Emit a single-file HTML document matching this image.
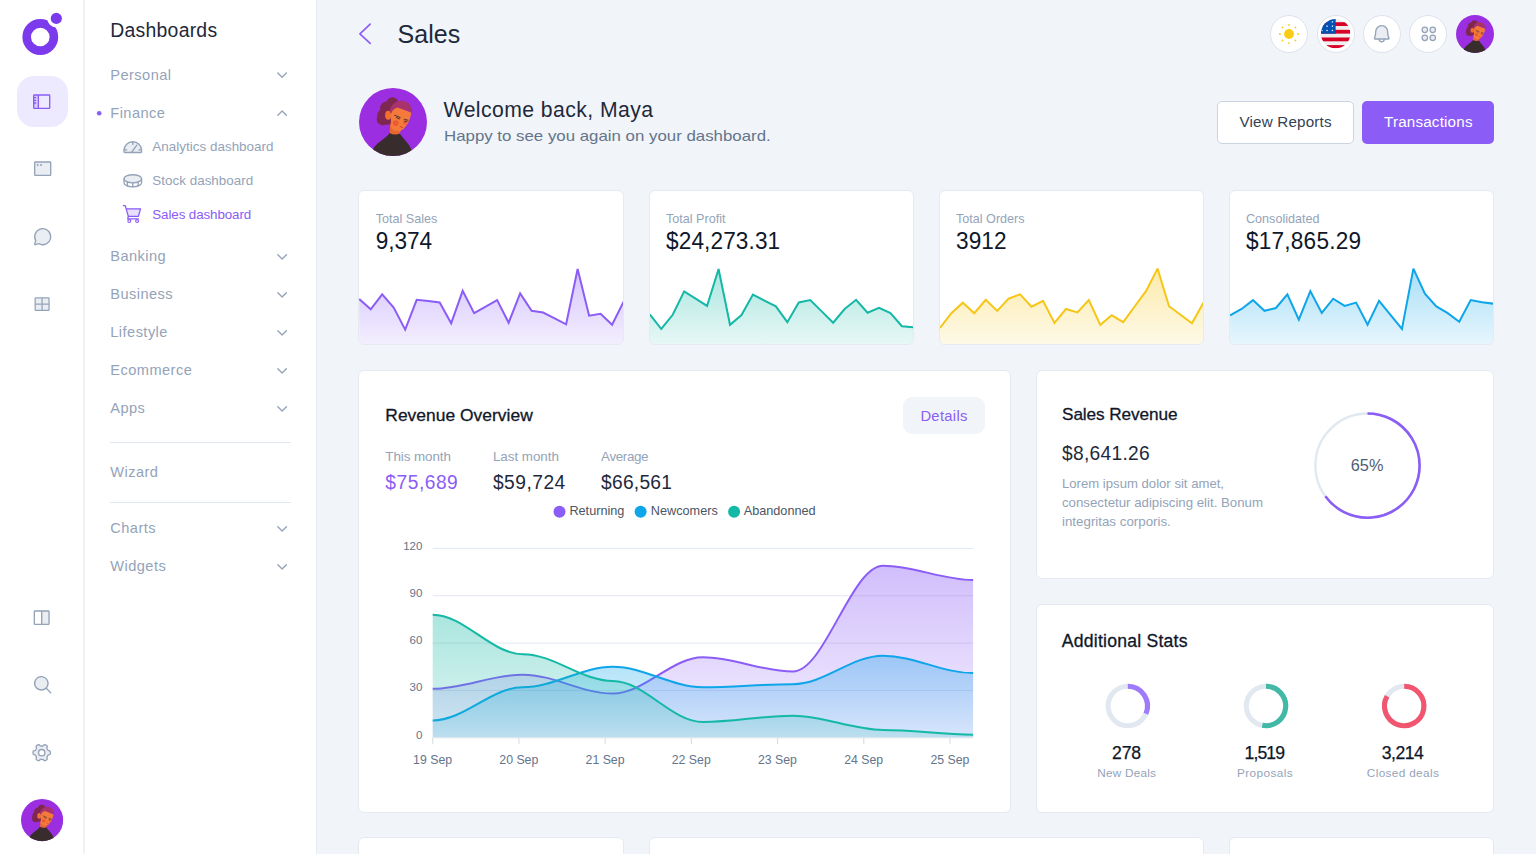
<!DOCTYPE html>
<html lang="en"><head><meta charset="utf-8"><title>Sales dashboard</title>
<style>
html,body{margin:0;padding:0;width:1536px;height:854px;overflow:hidden}
body{width:1536px;height:854px;overflow:hidden;background:#f1f5f9;font-family:'Liberation Sans',sans-serif;position:relative}
.t{position:absolute;white-space:pre;font-family:'Liberation Sans',sans-serif}
.abs{position:absolute}
.card{position:absolute;background:#fff;border:1px solid #e5eaf1;border-radius:6px;box-sizing:border-box;overflow:hidden}
svg{position:absolute;overflow:visible}
#app{position:absolute;left:0;top:0;width:1536px;height:854px;overflow:hidden;background:#f1f5f9}
</style></head><body>
<div id="app">
<svg width="0" height="0" style="position:absolute"><defs>
<clipPath id="avc"><circle cx="50" cy="50" r="50"/></clipPath>
<symbol id="avatar" viewBox="0 0 100 100">
<g clip-path="url(#avc)">
<rect width="100" height="100" fill="#9a2ee0"/>
<g fill="#7e2751">
<circle cx="49" cy="22" r="8.5"/><circle cx="41" cy="30" r="10"/><circle cx="36" cy="40" r="9"/><circle cx="35" cy="46" r="9"/><circle cx="42" cy="45" r="9"/><circle cx="46" cy="34" r="9"/>
</g>
<path d="M21,89 C27,79 40,74 45,66 L60,67 C66,76 74,82 77,91 L77,102 L21,102 Z" fill="#392c2c"/>
<path d="M46,52 L45,66 Q52,70 60,67 L62,60 Z" fill="#e8672f"/>
<ellipse cx="43" cy="40" rx="4.6" ry="6.6" fill="#f2702f"/>
<path d="M47,33 L56,27.5 L77,36.5 L75,45 L72,52 L66,60 L60,63.5 L52,63 L47,58 Z" fill="#f47a3c"/>
<path d="M45,35 C46,24 56,17 65,19 C73,20 78,27 78.5,36 L56.5,28.5 C52,30 48,33 47.5,38 Z" fill="#a8326c"/>
<circle cx="54" cy="51.5" r="4.2" fill="#ee5a30"/>
<circle cx="67.5" cy="51" r="2.6" fill="#ee5a30"/>
<path d="M52.5,40 L60.5,43.5 M66.5,46 L72,47.5" stroke="#5d3a2a" stroke-width="1.5" fill="none" stroke-linecap="round"/>
<path d="M55,43.5 L59.5,45.5 M67,48.6 L70.5,49.6" stroke="#3a2a2a" stroke-width="1.3" fill="none" stroke-linecap="round"/>
<path d="M60.5,56.5 L64.5,58.2" stroke="#d94a2c" stroke-width="1.6" fill="none" stroke-linecap="round"/>
</g></symbol></defs></svg>
<div class="abs" style="left:0;top:0;width:83px;height:854px;background:#fff;border-right:2px solid #f0f2f8"></div>
<div class="abs" style="left:85px;top:0;width:231px;height:854px;background:#fff;border-right:1px solid #e7ebf2"></div>
<svg style="left:20px;top:8px" width="48" height="52" viewBox="20 8 48 52">
<circle cx="40.3" cy="37" r="13.6" fill="none" stroke="#7c3aed" stroke-width="8.6"/>
<circle cx="56.3" cy="18.4" r="9" fill="#fff"/>
<circle cx="56.3" cy="18.4" r="5.6" fill="#7c3aed"/></svg>
<div class="abs" style="left:17px;top:76px;width:50.5px;height:50.5px;border-radius:17px;background:#ede9fe"></div>
<svg style="left:31.30px;top:90.50px" width="21.4" height="21.4" viewBox="0 0 256 256" fill="#8b5cf6"><path d="M88,48V208H40a8,8,0,0,1-8-8V56a8,8,0,0,1,8-8Z" opacity="0.2"/><path d="M216,40H40A16,16,0,0,0,24,56V200a16,16,0,0,0,16,16H216a16,16,0,0,0,16-16V56A16,16,0,0,0,216,40ZM40,152H56a8,8,0,0,0,0-16H40V120H56a8,8,0,0,0,0-16H40V88H56a8,8,0,0,0,0-16H40V56H80V200H40ZM216,200H96V56H216V200Z"/></svg>
<svg style="left:31.50px;top:157.90px" width="21.4" height="21.4" viewBox="0 0 256 256" fill="#94a3b8"><path d="M224,56V200a8,8,0,0,1-8,8H40a8,8,0,0,1-8-8V56a8,8,0,0,1,8-8H216A8,8,0,0,1,224,56Z" opacity="0.2"/><path d="M216,40H40A16,16,0,0,0,24,56V200a16,16,0,0,0,16,16H216a16,16,0,0,0,16-16V56A16,16,0,0,0,216,40Zm0,160H40V56H216V200ZM80,84A12,12,0,1,1,68,72,12,12,0,0,1,80,84Zm40,0a12,12,0,1,1-12-12A12,12,0,0,1,120,84Z"/></svg>
<svg style="left:31.50px;top:225.50px" width="21.4" height="21.4" viewBox="0 0 256 256" fill="#94a3b8"><path d="M224,128A96,96,0,0,1,79.93,211.11h0L42.54,223.58a8,8,0,0,1-10.12-10.12l12.47-37.39h0A96,96,0,1,1,224,128Z" opacity="0.2"/><path d="M128,24A104,104,0,0,0,36.18,176.88L24.83,210.93a16,16,0,0,0,20.24,20.24l34.05-11.35A104,104,0,1,0,128,24Zm0,192a87.87,87.87,0,0,1-44.06-11.81,8,8,0,0,0-6.54-.67L40,216,52.47,178.6a8,8,0,0,0-.66-6.54A88,88,0,1,1,128,216Z"/></svg>
<svg style="left:32.05px;top:293.60px" width="20.2" height="20.2" viewBox="0 0 256 256" fill="#94a3b8"><path d="M216,56V200a8,8,0,0,1-8,8H48a8,8,0,0,1-8-8V56a8,8,0,0,1,8-8H208A8,8,0,0,1,216,56Z" opacity="0.2"/><path d="M208,40H48A16,16,0,0,0,32,56V200a16,16,0,0,0,16,16H208a16,16,0,0,0,16-16V56A16,16,0,0,0,208,40Zm0,80H136V56h72ZM120,56v64H48V56ZM48,136h72v64H48Zm160,64H136V136h72v64Z"/></svg>
<svg style="left:31.40px;top:606.80px" width="21.4" height="21.4" viewBox="0 0 256 256" fill="#94a3b8"><path d="M128,48H208a8,8,0,0,1,8,8V200a8,8,0,0,1-8,8H128Z" opacity="0.2"/><path d="M208,40H48A16,16,0,0,0,32,56V200a16,16,0,0,0,16,16H208a16,16,0,0,0,16-16V56A16,16,0,0,0,208,40ZM48,56h72V200H48ZM208,200H136V56h72V200Z"/></svg>
<svg style="left:31.65px;top:673.90px" width="21.4" height="21.4" viewBox="0 0 256 256" fill="#94a3b8"><path d="M192,112a80,80,0,1,1-80-80A80,80,0,0,1,192,112Z" opacity="0.2"/><path d="M229.66,218.34,179.6,168.28a88.21,88.21,0,1,0-11.32,11.31l50.06,50.07a8,8,0,0,0,11.32-11.32ZM40,112a72,72,0,1,1,72,72A72.08,72.08,0,0,1,40,112Z"/></svg>
<svg style="left:31.20px;top:741.80px;color:#94a3b8" width="21.4" height="21.4" viewBox="0 0 256 256" fill="#94a3b8"><path d="M232.0,128.0 L231.9,132.5 L231.4,137.0 L230.4,141.5 L228.3,145.7 L224.0,149.3 L216.9,151.8 L209.7,153.8 L205.2,156.1 L202.6,158.9 L200.7,161.9 L199.0,165.0 L197.3,168.0 L195.5,171.0 L193.7,174.0 L192.1,177.2 L190.9,180.8 L191.2,185.9 L193.1,193.1 L194.4,200.5 L193.5,206.0 L190.9,209.9 L187.5,213.0 L183.9,215.7 L180.0,218.1 L176.0,220.2 L171.9,222.0 L167.5,223.4 L162.8,223.7 L157.6,221.8 L151.8,216.9 L146.5,211.6 L142.3,208.9 L138.5,208.1 L135.0,207.9 L131.5,208.0 L128.0,208.0 L124.5,208.0 L121.0,207.9 L117.5,208.1 L113.7,208.9 L109.5,211.6 L104.2,216.9 L98.4,221.8 L93.2,223.7 L88.5,223.4 L84.1,222.0 L80.0,220.2 L76.0,218.1 L72.1,215.7 L68.5,213.0 L65.1,209.9 L62.5,206.0 L61.6,200.5 L62.9,193.1 L64.8,185.9 L65.1,180.8 L63.9,177.2 L62.3,174.0 L60.5,171.0 L58.7,168.0 L57.0,165.0 L55.3,161.9 L53.4,158.9 L50.8,156.1 L46.3,153.8 L39.1,151.8 L32.0,149.3 L27.7,145.7 L25.6,141.5 L24.6,137.0 L24.1,132.5 L24.0,128.0 L24.1,123.5 L24.6,119.0 L25.6,114.5 L27.7,110.3 L32.0,106.7 L39.1,104.2 L46.3,102.2 L50.8,99.9 L53.4,97.1 L55.3,94.1 L57.0,91.0 L58.7,88.0 L60.5,85.0 L62.3,82.0 L63.9,78.8 L65.1,75.2 L64.8,70.1 L62.9,62.9 L61.6,55.5 L62.5,50.0 L65.1,46.1 L68.5,43.0 L72.1,40.3 L76.0,37.9 L80.0,35.8 L84.1,34.0 L88.5,32.6 L93.2,32.3 L98.4,34.2 L104.2,39.1 L109.5,44.4 L113.7,47.1 L117.5,47.9 L121.0,48.1 L124.5,48.0 L128.0,48.0 L131.5,48.0 L135.0,48.1 L138.5,47.9 L142.3,47.1 L146.5,44.4 L151.8,39.1 L157.6,34.2 L162.8,32.3 L167.5,32.6 L171.9,34.0 L176.0,35.8 L180.0,37.9 L183.9,40.3 L187.5,43.0 L190.9,46.1 L193.5,50.0 L194.4,55.5 L193.1,62.9 L191.2,70.1 L190.9,75.2 L192.1,78.8 L193.7,82.0 L195.5,85.0 L197.3,88.0 L199.0,91.0 L200.7,94.1 L202.6,97.1 L205.2,99.9 L209.7,102.2 L216.9,104.2 L224.0,106.7 L228.3,110.3 L230.4,114.5 L231.4,119.0 L231.9,123.5Z" opacity="0.2"/><path d="M232.0,128.0 L231.9,132.5 L231.4,137.0 L230.4,141.5 L228.3,145.7 L224.0,149.3 L216.9,151.8 L209.7,153.8 L205.2,156.1 L202.6,158.9 L200.7,161.9 L199.0,165.0 L197.3,168.0 L195.5,171.0 L193.7,174.0 L192.1,177.2 L190.9,180.8 L191.2,185.9 L193.1,193.1 L194.4,200.5 L193.5,206.0 L190.9,209.9 L187.5,213.0 L183.9,215.7 L180.0,218.1 L176.0,220.2 L171.9,222.0 L167.5,223.4 L162.8,223.7 L157.6,221.8 L151.8,216.9 L146.5,211.6 L142.3,208.9 L138.5,208.1 L135.0,207.9 L131.5,208.0 L128.0,208.0 L124.5,208.0 L121.0,207.9 L117.5,208.1 L113.7,208.9 L109.5,211.6 L104.2,216.9 L98.4,221.8 L93.2,223.7 L88.5,223.4 L84.1,222.0 L80.0,220.2 L76.0,218.1 L72.1,215.7 L68.5,213.0 L65.1,209.9 L62.5,206.0 L61.6,200.5 L62.9,193.1 L64.8,185.9 L65.1,180.8 L63.9,177.2 L62.3,174.0 L60.5,171.0 L58.7,168.0 L57.0,165.0 L55.3,161.9 L53.4,158.9 L50.8,156.1 L46.3,153.8 L39.1,151.8 L32.0,149.3 L27.7,145.7 L25.6,141.5 L24.6,137.0 L24.1,132.5 L24.0,128.0 L24.1,123.5 L24.6,119.0 L25.6,114.5 L27.7,110.3 L32.0,106.7 L39.1,104.2 L46.3,102.2 L50.8,99.9 L53.4,97.1 L55.3,94.1 L57.0,91.0 L58.7,88.0 L60.5,85.0 L62.3,82.0 L63.9,78.8 L65.1,75.2 L64.8,70.1 L62.9,62.9 L61.6,55.5 L62.5,50.0 L65.1,46.1 L68.5,43.0 L72.1,40.3 L76.0,37.9 L80.0,35.8 L84.1,34.0 L88.5,32.6 L93.2,32.3 L98.4,34.2 L104.2,39.1 L109.5,44.4 L113.7,47.1 L117.5,47.9 L121.0,48.1 L124.5,48.0 L128.0,48.0 L131.5,48.0 L135.0,48.1 L138.5,47.9 L142.3,47.1 L146.5,44.4 L151.8,39.1 L157.6,34.2 L162.8,32.3 L167.5,32.6 L171.9,34.0 L176.0,35.8 L180.0,37.9 L183.9,40.3 L187.5,43.0 L190.9,46.1 L193.5,50.0 L194.4,55.5 L193.1,62.9 L191.2,70.1 L190.9,75.2 L192.1,78.8 L193.7,82.0 L195.5,85.0 L197.3,88.0 L199.0,91.0 L200.7,94.1 L202.6,97.1 L205.2,99.9 L209.7,102.2 L216.9,104.2 L224.0,106.7 L228.3,110.3 L230.4,114.5 L231.4,119.0 L231.9,123.5Z" fill="none" stroke="currentColor" stroke-width="16" stroke-linejoin="round"/><circle cx="128" cy="128" r="38" fill="#fff" stroke="currentColor" stroke-width="16"/></svg>
<svg style="left:20.9px;top:799.1px" width="42.2" height="42.2"><use href="#avatar" width="42.2" height="42.2"/></svg>
<svg style="left:0;top:0" width="1536" height="854" viewBox="0 0 1536 854"><polyline points="277.80,73.05 282.10,77.35 286.40,73.05" fill="none" stroke="#94a3b8" stroke-width="1.35" stroke-linecap="round" stroke-linejoin="round"/><polyline points="277.80,115.35 282.10,111.05 286.40,115.35" fill="none" stroke="#94a3b8" stroke-width="1.35" stroke-linecap="round" stroke-linejoin="round"/><polyline points="277.80,254.65 282.10,258.95 286.40,254.65" fill="none" stroke="#94a3b8" stroke-width="1.35" stroke-linecap="round" stroke-linejoin="round"/><polyline points="277.80,292.65 282.10,296.95 286.40,292.65" fill="none" stroke="#94a3b8" stroke-width="1.35" stroke-linecap="round" stroke-linejoin="round"/><polyline points="277.80,330.65 282.10,334.95 286.40,330.65" fill="none" stroke="#94a3b8" stroke-width="1.35" stroke-linecap="round" stroke-linejoin="round"/><polyline points="277.80,368.65 282.10,372.95 286.40,368.65" fill="none" stroke="#94a3b8" stroke-width="1.35" stroke-linecap="round" stroke-linejoin="round"/><polyline points="277.80,406.65 282.10,410.95 286.40,406.65" fill="none" stroke="#94a3b8" stroke-width="1.35" stroke-linecap="round" stroke-linejoin="round"/><polyline points="277.80,526.65 282.10,530.95 286.40,526.65" fill="none" stroke="#94a3b8" stroke-width="1.35" stroke-linecap="round" stroke-linejoin="round"/><polyline points="277.80,564.65 282.10,568.95 286.40,564.65" fill="none" stroke="#94a3b8" stroke-width="1.35" stroke-linecap="round" stroke-linejoin="round"/><circle cx="99.2" cy="113.3" r="2.3" fill="#8b5cf6"/><rect x="110" y="442" width="181" height="1" fill="#e2e8f0"/><rect x="110" y="502" width="181" height="1" fill="#e2e8f0"/><polyline points="370.2,24.2 359.9,33.8 370.2,43.4" fill="none" stroke="#8b5cf6" stroke-width="1.7" stroke-linecap="round" stroke-linejoin="round"/></svg>
<svg style="left:122.30px;top:137.10px;color:#94a3b8" width="21.6" height="21.6" viewBox="0 0 256 256" fill="#94a3b8"><path d="M24,176v-16a104,104,0,0,1,208,0v16a8,8,0,0,1-8,8H32A8,8,0,0,1,24,176Z" opacity="0.2"/><path d="M24,176v-16a104,104,0,0,1,208,0v16a8,8,0,0,1-8,8H32A8,8,0,0,1,24,176Z" fill="none" stroke="currentColor" stroke-width="16" stroke-linejoin="round"/><path d="M128,56V88 M24,152H56 M200,152H232 M112,184 L176,96" fill="none" stroke="currentColor" stroke-width="16" stroke-linecap="round"/></svg>
<svg style="left:122.30px;top:169.90px;color:#94a3b8" width="21.6" height="21.6" viewBox="0 0 256 256" fill="#94a3b8"><ellipse cx="128" cy="104" rx="104" ry="48" opacity="0.2"/><ellipse cx="128" cy="104" rx="104" ry="48" fill="none" stroke="currentColor" stroke-width="16"/><path d="M24,104v48c0,26.5,46.6,48,104,48s104-21.500,104-48V104" fill="none" stroke="currentColor" stroke-width="16" stroke-linecap="round"/><path d="M128,152v48 M192,142v48 M64,142v48" fill="none" stroke="currentColor" stroke-width="16" stroke-linecap="round"/></svg>
<svg style="left:121.90px;top:203.20px;color:#8b5cf6" width="20.8" height="20.8" viewBox="0 0 256 256" fill="#8b5cf6"><path d="M62,72H228L202,164H78Z" opacity="0.2"/><path d="M16,32H40L78,164H202L228,72H54" fill="none" stroke="currentColor" stroke-width="16" stroke-linecap="round" stroke-linejoin="round"/><path d="M78,164 L70,196 H200" fill="none" stroke="currentColor" stroke-width="16" stroke-linecap="round" stroke-linejoin="round"/><circle cx="90" cy="222" r="18" fill="none" stroke="currentColor" stroke-width="14"/><circle cx="186" cy="222" r="18" fill="none" stroke="currentColor" stroke-width="14"/></svg>
<div class="abs" style="left:1270.10px;top:14.80px;width:38px;height:38px;border-radius:50%;background:#fff;border:1px solid #dde3ed;box-sizing:border-box"></div>
<div class="abs" style="left:1316.50px;top:14.80px;width:38px;height:38px;border-radius:50%;background:#fff;border:1px solid #dde3ed;box-sizing:border-box"></div>
<div class="abs" style="left:1362.90px;top:14.80px;width:38px;height:38px;border-radius:50%;background:#fff;border:1px solid #dde3ed;box-sizing:border-box"></div>
<div class="abs" style="left:1409.30px;top:14.80px;width:38px;height:38px;border-radius:50%;background:#fff;border:1px solid #dde3ed;box-sizing:border-box"></div>
<svg style="left:1274px;top:18.8px" width="30" height="30" viewBox="-15 -15 30 30" fill="#facc15"><circle r="4.9"/><circle cx="9.10" cy="0.00" r="0.95"/><circle cx="6.43" cy="6.43" r="0.95"/><circle cx="0.00" cy="9.10" r="0.95"/><circle cx="-6.43" cy="6.43" r="0.95"/><circle cx="-9.10" cy="0.00" r="0.95"/><circle cx="-6.43" cy="-6.43" r="0.95"/><circle cx="-0.00" cy="-9.10" r="0.95"/><circle cx="6.43" cy="-6.43" r="0.95"/></svg>
<svg style="left:1320.85px;top:19.2px" width="29.3" height="29.3" viewBox="0 0 512 512"><defs><clipPath id="fc"><circle cx="256" cy="256" r="256"/></clipPath></defs><g clip-path="url(#fc)"><rect width="512" height="512" fill="#eee"/><rect x="0" y="55.6" width="512" height="66.8" fill="#d80027"/><rect x="0" y="189.2" width="512" height="66.8" fill="#d80027"/><rect x="0" y="322.8" width="512" height="66.8" fill="#d80027"/><rect x="0" y="456.3" width="512" height="55.7" fill="#d80027"/><rect width="256" height="256" fill="#0052b4"/><path d="M200,29l5.500,13.500 14,1 -10.500,9.500 3.500,14 -12.500,-7.500 -12.500,7.500 3.500,-14 -10.500,-9.500 14,-1z" fill="#eee"/><path d="M106,104l5.500,13.500 14,1 -10.500,9.500 3.500,14 -12.500,-7.500 -12.500,7.500 3.500,-14 -10.500,-9.500 14,-1z" fill="#eee"/><path d="M200,104l5.500,13.500 14,1 -10.500,9.500 3.500,14 -12.500,-7.500 -12.500,7.500 3.500,-14 -10.500,-9.500 14,-1z" fill="#eee"/><path d="M106,178l5.500,13.500 14,1 -10.500,9.500 3.500,14 -12.500,-7.500 -12.500,7.500 3.500,-14 -10.500,-9.500 14,-1z" fill="#eee"/><path d="M200,178l5.500,13.500 14,1 -10.500,9.500 3.500,14 -12.500,-7.500 -12.500,7.500 3.500,-14 -10.500,-9.500 14,-1z" fill="#eee"/><path d="M16,178l5.500,13.500 14,1 -10.500,9.500 3.500,14 -12.500,-7.500 -12.500,7.500 3.500,-14 -10.500,-9.500 14,-1z" fill="#eee"/></g></svg>
<svg style="left:1371.20px;top:23.20px" width="21.4" height="21.4" viewBox="0 0 256 256" fill="#94a3b8"><path d="M208,192H48a8,8,0,0,1-6.88-12C47.71,168.6,56,147.81,56,112a72,72,0,0,1,144,0c0,35.82,8.3,56.6,14.9,68A8,8,0,0,1,208,192Z" opacity="0.2"/><path d="M221.8,175.94C216.25,166.38,208,139.33,208,104a80,80,0,1,0-160,0c0,35.34-8.26,62.38-13.81,71.94A16,16,0,0,0,48,200H88.81a40,40,0,0,0,78.38,0H208a16,16,0,0,0,13.8-24.06ZM128,216a24,24,0,0,1-22.62-16h45.24A24,24,0,0,1,128,216ZM48,184c7.7-13.24,16-43.92,16-80a64,64,0,1,1,128,0c0,36.05,8.28,66.73,16,80Z"/></svg>
<svg style="left:1418.50px;top:24.10px;color:#94a3b8" width="19.6" height="19.6" viewBox="0 0 256 256" fill="#94a3b8"><circle cx="76" cy="76" r="36" opacity="0.2"/><circle cx="76" cy="76" r="36" fill="none" stroke="currentColor" stroke-width="16"/><circle cx="76" cy="180" r="36" opacity="0.2"/><circle cx="76" cy="180" r="36" fill="none" stroke="currentColor" stroke-width="16"/><circle cx="180" cy="76" r="36" opacity="0.2"/><circle cx="180" cy="76" r="36" fill="none" stroke="currentColor" stroke-width="16"/><circle cx="180" cy="180" r="36" opacity="0.2"/><circle cx="180" cy="180" r="36" fill="none" stroke="currentColor" stroke-width="16"/></svg>
<svg style="left:1456px;top:14.8px" width="38" height="38"><use href="#avatar" width="38" height="38"/></svg>
<svg style="left:358.6px;top:88.2px" width="68" height="68"><use href="#avatar" width="68" height="68"/></svg>
<div class="abs" style="left:1217px;top:101px;width:137px;height:43px;border-radius:5px;background:#fff;border:1px solid #cbd5e1;box-sizing:border-box"></div>
<div class="abs" style="left:1362px;top:101px;width:132px;height:43px;border-radius:5px;background:#8b5cf6"></div>
<div class="card" style="left:358px;top:190px;width:266px;height:155px"><svg style="left:0;top:0" width="266" height="155"><defs><linearGradient id="sg0" x1="0" y1="0" x2="0" y2="1"><stop offset="0" stop-color="#8b5cf6" stop-opacity="0.36"/><stop offset="1" stop-color="#8b5cf6" stop-opacity="0.1"/></linearGradient></defs><path d="M0.20,108.00 L11.70,118.30 L23.19,103.30 L34.69,116.60 L46.18,138.60 L57.68,108.80 L69.17,110.10 L80.67,111.50 L92.17,132.30 L103.66,99.80 L115.16,122.20 L126.65,115.70 L138.15,109.10 L149.64,131.70 L161.14,102.50 L172.63,119.80 L184.13,121.50 L195.63,127.30 L207.12,133.30 L218.62,78.00 L230.11,124.70 L241.61,122.80 L253.10,133.80 L264.60,110.60 L264.60,154.00 L0.20,154.00Z" fill="url(#sg0)"/><path d="M0.20,108.00 L11.70,118.30 L23.19,103.30 L34.69,116.60 L46.18,138.60 L57.68,108.80 L69.17,110.10 L80.67,111.50 L92.17,132.30 L103.66,99.80 L115.16,122.20 L126.65,115.70 L138.15,109.10 L149.64,131.70 L161.14,102.50 L172.63,119.80 L184.13,121.50 L195.63,127.30 L207.12,133.30 L218.62,78.00 L230.11,124.70 L241.61,122.80 L253.10,133.80 L264.60,110.60" fill="none" stroke="#8b5cf6" stroke-width="2" stroke-linejoin="miter" stroke-miterlimit="2.6" stroke-linecap="butt"/></svg></div>
<div class="card" style="left:649px;top:190px;width:265px;height:155px"><svg style="left:0;top:0" width="265" height="155"><defs><linearGradient id="sg1" x1="0" y1="0" x2="0" y2="1"><stop offset="0" stop-color="#14b8a6" stop-opacity="0.36"/><stop offset="1" stop-color="#14b8a6" stop-opacity="0.1"/></linearGradient></defs><path d="M-0.20,123.30 L11.26,138.00 L22.72,123.80 L34.18,100.40 L45.64,107.60 L57.10,114.90 L68.57,78.00 L80.03,133.80 L91.49,124.10 L102.95,103.60 L114.41,109.60 L125.87,115.30 L137.33,131.20 L148.79,111.50 L160.25,109.10 L171.71,120.40 L183.17,131.70 L194.63,118.00 L206.10,108.80 L217.56,121.70 L229.02,116.80 L240.48,122.00 L251.94,135.20 L263.40,136.20 L263.40,154.00 L-0.20,154.00Z" fill="url(#sg1)"/><path d="M-0.20,123.30 L11.26,138.00 L22.72,123.80 L34.18,100.40 L45.64,107.60 L57.10,114.90 L68.57,78.00 L80.03,133.80 L91.49,124.10 L102.95,103.60 L114.41,109.60 L125.87,115.30 L137.33,131.20 L148.79,111.50 L160.25,109.10 L171.71,120.40 L183.17,131.70 L194.63,118.00 L206.10,108.80 L217.56,121.70 L229.02,116.80 L240.48,122.00 L251.94,135.20 L263.40,136.20" fill="none" stroke="#14b8a6" stroke-width="2" stroke-linejoin="miter" stroke-miterlimit="2.6" stroke-linecap="butt"/></svg></div>
<div class="card" style="left:939px;top:190px;width:265px;height:155px"><svg style="left:0;top:0" width="265" height="155"><defs><linearGradient id="sg2" x1="0" y1="0" x2="0" y2="1"><stop offset="0" stop-color="#f6c616" stop-opacity="0.36"/><stop offset="1" stop-color="#f6c616" stop-opacity="0.1"/></linearGradient></defs><path d="M-0.10,137.00 L11.36,122.20 L22.81,111.70 L34.27,122.20 L45.73,108.80 L57.18,119.90 L68.64,107.50 L80.10,103.30 L91.55,115.70 L103.01,109.90 L114.47,131.90 L125.92,118.00 L137.38,121.40 L148.83,109.10 L160.29,133.80 L171.75,124.30 L183.20,131.20 L194.66,115.50 L206.12,99.90 L217.57,77.60 L229.03,115.20 L240.49,123.80 L251.94,132.30 L263.40,111.70 L263.40,154.00 L-0.10,154.00Z" fill="url(#sg2)"/><path d="M-0.10,137.00 L11.36,122.20 L22.81,111.70 L34.27,122.20 L45.73,108.80 L57.18,119.90 L68.64,107.50 L80.10,103.30 L91.55,115.70 L103.01,109.90 L114.47,131.90 L125.92,118.00 L137.38,121.40 L148.83,109.10 L160.29,133.80 L171.75,124.30 L183.20,131.20 L194.66,115.50 L206.12,99.90 L217.57,77.60 L229.03,115.20 L240.49,123.80 L251.94,132.30 L263.40,111.70" fill="none" stroke="#f6c616" stroke-width="2" stroke-linejoin="miter" stroke-miterlimit="2.6" stroke-linecap="butt"/></svg></div>
<div class="card" style="left:1229px;top:190px;width:265px;height:155px"><svg style="left:0;top:0" width="265" height="155"><defs><linearGradient id="sg3" x1="0" y1="0" x2="0" y2="1"><stop offset="0" stop-color="#0ea5e9" stop-opacity="0.36"/><stop offset="1" stop-color="#0ea5e9" stop-opacity="0.1"/></linearGradient></defs><path d="M0.10,124.30 L11.56,118.00 L23.01,109.10 L34.47,119.80 L45.93,117.00 L57.38,103.30 L68.84,128.60 L80.30,100.10 L91.75,122.00 L103.21,107.70 L114.67,114.90 L126.12,111.60 L137.58,133.80 L149.03,109.90 L160.49,123.90 L171.95,138.00 L183.40,77.60 L194.86,102.70 L206.32,115.40 L217.77,122.20 L229.23,130.70 L240.69,109.10 L252.14,111.20 L263.60,112.70 L263.60,154.00 L0.10,154.00Z" fill="url(#sg3)"/><path d="M0.10,124.30 L11.56,118.00 L23.01,109.10 L34.47,119.80 L45.93,117.00 L57.38,103.30 L68.84,128.60 L80.30,100.10 L91.75,122.00 L103.21,107.70 L114.67,114.90 L126.12,111.60 L137.58,133.80 L149.03,109.90 L160.49,123.90 L171.95,138.00 L183.40,77.60 L194.86,102.70 L206.32,115.40 L217.77,122.20 L229.23,130.70 L240.69,109.10 L252.14,111.20 L263.60,112.70" fill="none" stroke="#0ea5e9" stroke-width="2" stroke-linejoin="miter" stroke-miterlimit="2.6" stroke-linecap="butt"/></svg></div>
<div class="card" style="left:358px;top:370px;width:653px;height:443px"></div>
<div class="card" style="left:1036px;top:370px;width:458px;height:209px"></div>
<div class="card" style="left:1036px;top:604px;width:458px;height:209px"></div>
<div class="card" style="left:358px;top:837px;width:266px;height:60px"></div>
<div class="card" style="left:649px;top:837px;width:555px;height:60px"></div>
<div class="card" style="left:1229px;top:837px;width:265px;height:60px"></div>
<div class="abs" style="left:903.3px;top:397.1px;width:81.4px;height:37.4px;border-radius:9px;background:#f1f5f9"></div>
<svg style="left:0;top:0" width="1536" height="854" viewBox="0 0 1536 854"><defs><linearGradient id="mg0" x1="0" y1="565.8" x2="0" y2="737.8" gradientUnits="userSpaceOnUse"><stop offset="0" stop-color="#8b5cf6" stop-opacity="0.4"/><stop offset="1" stop-color="#8b5cf6" stop-opacity="0.1"/></linearGradient><linearGradient id="mg1" x1="0" y1="655.7" x2="0" y2="737.8" gradientUnits="userSpaceOnUse"><stop offset="0" stop-color="#0ea5e9" stop-opacity="0.33"/><stop offset="1" stop-color="#0ea5e9" stop-opacity="0.12"/></linearGradient><linearGradient id="mg2" x1="0" y1="614.7" x2="0" y2="737.8" gradientUnits="userSpaceOnUse"><stop offset="0" stop-color="#14b8a6" stop-opacity="0.36"/><stop offset="1" stop-color="#14b8a6" stop-opacity="0.14"/></linearGradient></defs><rect x="432.7" y="547.90" width="540.4" height="1" fill="#e2e8f0"/><rect x="432.7" y="595.25" width="540.4" height="1" fill="#e2e8f0"/><rect x="432.7" y="642.60" width="540.4" height="1" fill="#e2e8f0"/><rect x="432.7" y="689.95" width="540.4" height="1" fill="#e2e8f0"/><rect x="432.20" y="737.80" width="1" height="6.5" fill="#d5dae2"/><rect x="518.42" y="737.80" width="1" height="6.5" fill="#d5dae2"/><rect x="604.64" y="737.80" width="1" height="6.5" fill="#d5dae2"/><rect x="690.86" y="737.80" width="1" height="6.5" fill="#d5dae2"/><rect x="777.08" y="737.80" width="1" height="6.5" fill="#d5dae2"/><rect x="863.30" y="737.80" width="1" height="6.5" fill="#d5dae2"/><rect x="949.52" y="737.80" width="1" height="6.5" fill="#d5dae2"/><path d="M432.70,688.87 C464.22,688.87 491.24,674.67 522.77,674.67 C554.29,674.67 581.31,693.61 612.83,693.61 C644.36,693.61 671.38,657.31 702.90,657.31 C734.42,657.31 761.44,671.51 792.97,671.51 C824.49,671.51 851.51,565.77 883.03,565.77 C914.56,565.77 941.58,579.97 973.10,579.97 L973.10,737.8 L432.70,737.8Z" fill="url(#mg0)"/><path d="M432.70,688.87 C464.22,688.87 491.24,674.67 522.77,674.67 C554.29,674.67 581.31,693.61 612.83,693.61 C644.36,693.61 671.38,657.31 702.90,657.31 C734.42,657.31 761.44,671.51 792.97,671.51 C824.49,671.51 851.51,565.77 883.03,565.77 C914.56,565.77 941.58,579.97 973.10,579.97" fill="none" stroke="#8b5cf6" stroke-width="2"/><path d="M432.70,720.44 C464.22,720.44 491.24,687.29 522.77,687.29 C554.29,687.29 581.31,666.78 612.83,666.78 C644.36,666.78 671.38,687.29 702.90,687.29 C734.42,687.29 761.44,684.14 792.97,684.14 C824.49,684.14 851.51,655.73 883.03,655.73 C914.56,655.73 941.58,673.09 973.10,673.09 L973.10,737.8 L432.70,737.8Z" fill="url(#mg1)"/><path d="M432.70,720.44 C464.22,720.44 491.24,687.29 522.77,687.29 C554.29,687.29 581.31,666.78 612.83,666.78 C644.36,666.78 671.38,687.29 702.90,687.29 C734.42,687.29 761.44,684.14 792.97,684.14 C824.49,684.14 851.51,655.73 883.03,655.73 C914.56,655.73 941.58,673.09 973.10,673.09" fill="none" stroke="#0ea5e9" stroke-width="2"/><path d="M432.70,614.69 C464.22,614.69 491.24,654.15 522.77,654.15 C554.29,654.15 581.31,680.98 612.83,680.98 C644.36,680.98 671.38,722.02 702.90,722.02 C734.42,722.02 761.44,715.70 792.97,715.70 C824.49,715.70 851.51,729.91 883.03,729.91 C914.56,729.91 941.58,734.64 973.10,734.64 L973.10,737.8 L432.70,737.8Z" fill="url(#mg2)"/><path d="M432.70,614.69 C464.22,614.69 491.24,654.15 522.77,654.15 C554.29,654.15 581.31,680.98 612.83,680.98 C644.36,680.98 671.38,722.02 702.90,722.02 C734.42,722.02 761.44,715.70 792.97,715.70 C824.49,715.70 851.51,729.91 883.03,729.91 C914.56,729.91 941.58,734.64 973.10,734.64" fill="none" stroke="#14b8a6" stroke-width="2"/><rect x="432.7" y="737.20" width="540.4" height="1.2" fill="#e2e6ee"/><circle cx="559.5" cy="511.7" r="6" fill="#8b5cf6"/><circle cx="640.6" cy="511.7" r="6" fill="#0ea5e9"/><circle cx="734.1" cy="511.7" r="6" fill="#14b8a6"/><circle cx="1367.5" cy="465.6" r="52.1" fill="none" stroke="#e2e8f0" stroke-width="2.4"/><path d="M1367.50,413.50A52.1,52.1,0,1,1,1325.35,496.22" fill="none" stroke="#8b5cf6" stroke-width="2.6"/><circle cx="1127.8" cy="706" r="19.7" fill="none" stroke="#e2e8f0" stroke-width="5.1"/><path d="M1127.80,686.30A19.7,19.7,0,0,1,1145.88,713.82" fill="none" stroke="#9f7afa" stroke-width="5.1"/><circle cx="1266.0" cy="706" r="19.7" fill="none" stroke="#e2e8f0" stroke-width="5.1"/><path d="M1266.00,686.30A19.7,19.7,0,1,1,1262.31,725.35" fill="none" stroke="#41b9a6" stroke-width="5.1"/><circle cx="1404.2" cy="706" r="19.7" fill="none" stroke="#e2e8f0" stroke-width="5.1"/><path d="M1404.20,686.30A19.7,19.7,0,1,1,1387.06,696.29" fill="none" stroke="#f2556f" stroke-width="5.1"/></svg>
<div class="t" style="left:110.30px;top:19px;font-size:19.4px;line-height:22px;color:#1e293b;letter-spacing:0.249px;">Dashboards</div>
<div class="t" style="left:110.30px;top:67px;font-size:14.6px;line-height:16px;color:#94a3b8;letter-spacing:0.450px;">Personal</div>
<div class="t" style="left:110.30px;top:105px;font-size:14.6px;line-height:16px;color:#94a3b8;letter-spacing:0.450px;">Finance</div>
<div class="t" style="left:110.30px;top:248px;font-size:14.6px;line-height:16px;color:#94a3b8;letter-spacing:0.450px;">Banking</div>
<div class="t" style="left:110.30px;top:286px;font-size:14.6px;line-height:16px;color:#94a3b8;letter-spacing:0.450px;">Business</div>
<div class="t" style="left:110.30px;top:324px;font-size:14.6px;line-height:16px;color:#94a3b8;letter-spacing:0.450px;">Lifestyle</div>
<div class="t" style="left:110.30px;top:362px;font-size:14.6px;line-height:16px;color:#94a3b8;letter-spacing:0.450px;">Ecommerce</div>
<div class="t" style="left:110.30px;top:400px;font-size:14.6px;line-height:16px;color:#94a3b8;letter-spacing:0.450px;">Apps</div>
<div class="t" style="left:110.30px;top:464px;font-size:14.6px;line-height:16px;color:#94a3b8;letter-spacing:0.450px;">Wizard</div>
<div class="t" style="left:110.30px;top:520px;font-size:14.6px;line-height:16px;color:#94a3b8;letter-spacing:0.450px;">Charts</div>
<div class="t" style="left:110.30px;top:558px;font-size:14.6px;line-height:16px;color:#94a3b8;letter-spacing:0.450px;">Widgets</div>
<div class="t" style="left:152.30px;top:139px;font-size:13.4px;line-height:15px;color:#94a3b8;letter-spacing:0.034px;">Analytics dashboard</div>
<div class="t" style="left:152.30px;top:173px;font-size:13.4px;line-height:15px;color:#94a3b8;letter-spacing:0.029px;">Stock dashboard</div>
<div class="t" style="left:152.30px;top:207px;font-size:13.4px;line-height:15px;color:#8b5cf6;letter-spacing:-0.115px;">Sales dashboard</div>
<div class="t" style="left:397.60px;top:20px;font-size:25px;line-height:28px;color:#1e293b;letter-spacing:0.038px;">Sales</div>
<div class="t" style="left:443.60px;top:98px;font-size:21.2px;line-height:23px;color:#1e293b;letter-spacing:0.433px;">Welcome back, Maya</div>
<div class="t" style="left:443.60px;top:127px;font-size:15.0px;line-height:17px;color:#64748b;transform:scale(1.1225,1);transform-origin:0 14px;">Happy to see you again on your dashboard.</div>
<div class="t" style="left:1239.40px;top:113px;font-size:15.2px;line-height:17px;color:#334155;letter-spacing:0.196px;">View Reports</div>
<div class="t" style="left:1384.00px;top:113px;font-size:15.2px;line-height:17px;color:#ffffff;letter-spacing:0.192px;">Transactions</div>
<div class="t" style="left:375.70px;top:212px;font-size:12.6px;line-height:14px;color:#94a3b8;">Total Sales</div>
<div class="t" style="left:375.70px;top:229px;font-size:22.6px;line-height:25px;color:#0f172a;letter-spacing:-0.062px;transform:scale(1.0000,1.07);transform-origin:0 20px;">9,374</div>
<div class="t" style="left:666.00px;top:212px;font-size:12.6px;line-height:14px;color:#94a3b8;">Total Profit</div>
<div class="t" style="left:666.00px;top:229px;font-size:22.6px;line-height:25px;color:#0f172a;letter-spacing:0.123px;transform:scale(1.0000,1.07);transform-origin:0 20px;">$24,273.31</div>
<div class="t" style="left:956.00px;top:212px;font-size:12.6px;line-height:14px;color:#94a3b8;">Total Orders</div>
<div class="t" style="left:956.00px;top:229px;font-size:22.6px;line-height:25px;color:#0f172a;letter-spacing:0.111px;transform:scale(1.0000,1.07);transform-origin:0 20px;">3912</div>
<div class="t" style="left:1246.00px;top:212px;font-size:12.6px;line-height:14px;color:#94a3b8;">Consolidated</div>
<div class="t" style="left:1246.00px;top:229px;font-size:22.6px;line-height:25px;color:#0f172a;letter-spacing:0.212px;transform:scale(1.0000,1.07);transform-origin:0 20px;">$17,865.29</div>
<div class="t" style="left:385.30px;top:405px;font-size:17.4px;line-height:20px;color:#0f172a;letter-spacing:0.032px;-webkit-text-stroke:0.3px #0f172a;">Revenue Overview</div>
<div class="t" style="left:920.40px;top:408px;font-size:14.8px;line-height:16px;color:#8b5cf6;letter-spacing:0.294px;">Details</div>
<div class="t" style="left:385.30px;top:449px;font-size:13.4px;line-height:15px;color:#94a3b8;letter-spacing:-0.070px;">This month</div>
<div class="t" style="left:492.90px;top:449px;font-size:13.4px;line-height:15px;color:#94a3b8;letter-spacing:-0.028px;">Last month</div>
<div class="t" style="left:601.10px;top:449px;font-size:13.4px;line-height:15px;color:#94a3b8;letter-spacing:-0.373px;">Average</div>
<div class="t" style="left:385.30px;top:472px;font-size:19.2px;line-height:21px;color:#8b5cf6;letter-spacing:0.523px;transform:scale(1.0000,1.05);transform-origin:0 17px;">$75,689</div>
<div class="t" style="left:492.90px;top:472px;font-size:19.2px;line-height:21px;color:#1e293b;letter-spacing:0.507px;transform:scale(1.0000,1.05);transform-origin:0 17px;">$59,724</div>
<div class="t" style="left:601.10px;top:472px;font-size:19.2px;line-height:21px;color:#1e293b;letter-spacing:0.240px;transform:scale(1.0000,1.05);transform-origin:0 17px;">$66,561</div>
<div class="t" style="left:569.40px;top:504px;font-size:12.7px;line-height:14px;color:#4b5563;">Returning</div>
<div class="t" style="left:650.80px;top:504px;font-size:12.7px;line-height:14px;color:#4b5563;">Newcomers</div>
<div class="t" style="left:743.70px;top:504px;font-size:12.7px;line-height:14px;color:#4b5563;">Abandonned</div>
<div class="t" style="left:403.21px;top:540px;font-size:11.5px;line-height:12px;color:#64748b;">120</div>
<div class="t" style="left:409.60px;top:587px;font-size:11.5px;line-height:12px;color:#64748b;">90</div>
<div class="t" style="left:409.60px;top:634px;font-size:11.5px;line-height:12px;color:#64748b;">60</div>
<div class="t" style="left:409.60px;top:681px;font-size:11.5px;line-height:12px;color:#64748b;">30</div>
<div class="t" style="left:415.99px;top:729px;font-size:11.5px;line-height:12px;color:#64748b;">0</div>
<div class="t" style="left:413.11px;top:753px;font-size:12.3px;line-height:14px;color:#64748b;">19 Sep</div>
<div class="t" style="left:499.33px;top:753px;font-size:12.3px;line-height:14px;color:#64748b;">20 Sep</div>
<div class="t" style="left:585.55px;top:753px;font-size:12.3px;line-height:14px;color:#64748b;">21 Sep</div>
<div class="t" style="left:671.77px;top:753px;font-size:12.3px;line-height:14px;color:#64748b;">22 Sep</div>
<div class="t" style="left:757.99px;top:753px;font-size:12.3px;line-height:14px;color:#64748b;">23 Sep</div>
<div class="t" style="left:844.21px;top:753px;font-size:12.3px;line-height:14px;color:#64748b;">24 Sep</div>
<div class="t" style="left:930.43px;top:753px;font-size:12.3px;line-height:14px;color:#64748b;">25 Sep</div>
<div class="t" style="left:1062.00px;top:404px;font-size:17.2px;line-height:20px;color:#0f172a;letter-spacing:-0.082px;-webkit-text-stroke:0.3px #0f172a;">Sales Revenue</div>
<div class="t" style="left:1062.00px;top:443px;font-size:19.2px;line-height:21px;color:#1e293b;letter-spacing:0.291px;transform:scale(1.0000,1.05);transform-origin:0 17px;">$8,641.26</div>
<div class="t" style="left:1062.00px;top:477px;font-size:12.4px;line-height:14px;color:#94a3b8;transform:scale(1.0597,1);transform-origin:0 11px;">Lorem ipsum dolor sit amet,</div>
<div class="t" style="left:1062.00px;top:496px;font-size:12.4px;line-height:14px;color:#94a3b8;transform:scale(1.0690,1);transform-origin:0 11px;">consectetur adipiscing elit. Bonum</div>
<div class="t" style="left:1062.00px;top:515px;font-size:12.4px;line-height:14px;color:#94a3b8;transform:scale(1.0747,1);transform-origin:0 11px;">integritas corporis.</div>
<div class="t" style="left:1350.80px;top:456px;font-size:16.3px;line-height:18px;color:#4f5d75;">65%</div>
<div class="t" style="left:1061.80px;top:631px;font-size:17.6px;line-height:20px;color:#0f172a;letter-spacing:0.229px;-webkit-text-stroke:0.3px #0f172a;">Additional Stats</div>
<div class="t" style="left:1112.10px;top:743px;font-size:17.6px;line-height:20px;color:#0f172a;letter-spacing:-0.180px;-webkit-text-stroke:0.25px #0f172a;">278</div>
<div class="t" style="left:1244.55px;top:743px;font-size:17.6px;line-height:20px;color:#0f172a;letter-spacing:-0.883px;-webkit-text-stroke:0.25px #0f172a;">1,519</div>
<div class="t" style="left:1381.80px;top:743px;font-size:17.6px;line-height:20px;color:#0f172a;letter-spacing:-0.508px;-webkit-text-stroke:0.25px #0f172a;">3,214</div>
<div class="t" style="left:1097.35px;top:766px;font-size:11.8px;line-height:14px;color:#94a3b8;letter-spacing:0.182px;">New Deals</div>
<div class="t" style="left:1237.00px;top:766px;font-size:11.8px;line-height:14px;color:#94a3b8;letter-spacing:0.391px;">Proposals</div>
<div class="t" style="left:1366.80px;top:766px;font-size:11.8px;line-height:14px;color:#94a3b8;letter-spacing:0.345px;">Closed deals</div>

</div>
</body></html>
